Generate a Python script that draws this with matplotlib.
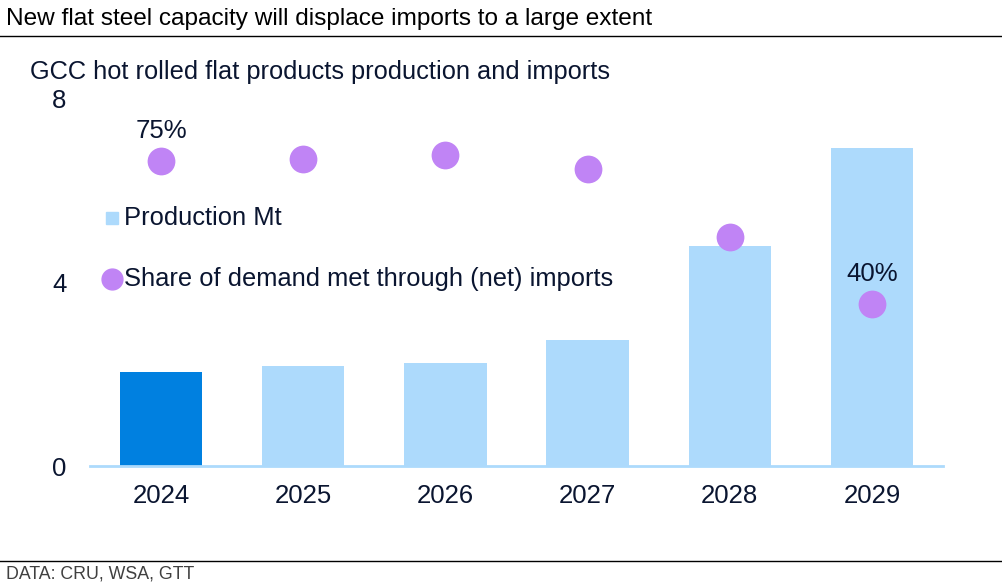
import matplotlib.pyplot as plt
from matplotlib.lines import Line2D

years = ["2024", "2025", "2026", "2027", "2028", "2029"]
production_mt = [2.04, 2.18, 2.24, 2.74, 4.78, 6.92]
import_share = [0.746, 0.751, 0.761, 0.726, 0.561, 0.397]
labelled = {0: "75%", 5: "40%"}
legend_labels = ["Production Mt", "Share of demand met through (net) imports"]

dark = "#0a1530"
bar_light = "#addafc"
bar_dark = "#0080e0"
purple = "#c084f5"

plt.rcParams['font.family'] = ['Liberation Sans', 'DejaVu Sans']

fig = plt.figure(figsize=(10.02, 5.87), dpi=100)
ax = fig.add_axes([90 / 1002, 1 - 466 / 587, 853 / 1002, 368 / 587])

x = list(range(len(years)))
colors = [bar_dark] + [bar_light] * (len(years) - 1)
ax.bar(x, production_mt, width=0.58, color=colors, zorder=2)
ax.set_xlim(-0.5, len(years) - 0.5)
ax.set_ylim(0, 8)
ax.set_yticks([0, 4, 8])
ax.set_xticks(x, years)
ax.tick_params(axis='both', length=0, labelsize=18.5, colors=dark)
ax.tick_params(axis='x', pad=13)
ax.tick_params(axis='y', pad=17)
for s in ['top', 'right', 'left']:
    ax.spines[s].set_visible(False)
ax.spines['bottom'].set_color(bar_light)
ax.spines['bottom'].set_linewidth(2)

ax2 = ax.twinx()
ax2.set_ylim(0, 0.9)
ax2.axis('off')
ax2.scatter(x, import_share, s=400, color=purple, zorder=3, linewidths=0)
for i, txt in labelled.items():
    ax2.annotate(txt, (x[i], import_share[i]), xytext=(0, 21.5), textcoords='offset points',
                 ha='center', va='center', fontsize=18.5, color=dark)

# legend, drawn by hand so rows sit where the reference has them
leg_y = [1 - 218 / 587, 1 - 279 / 587]
fig.add_artist(Line2D([112 / 1002], [leg_y[0]], marker='s', ms=9, color=bar_light, ls=''))
fig.add_artist(Line2D([112 / 1002], [leg_y[1]], marker='o', ms=15, color=purple, ls=''))
for yy, lab in zip(leg_y, legend_labels):
    fig.text(124 / 1002, yy, lab, fontsize=18.4, color=dark, va='center', ha='left')

fig.text(6 / 1002, 1 - 19 / 587, "New flat steel capacity will displace imports to a large extent",
         fontsize=17.6, color='black', va='center', ha='left')
fig.add_artist(Line2D([0, 1], [1 - 36 / 587] * 2, color='black', lw=1))
fig.text(30 / 1002, 1 - 72 / 587, "GCC hot rolled flat products production and imports",
         fontsize=18.3, color=dark, va='center', ha='left')
fig.add_artist(Line2D([0, 1], [1 - 561 / 587] * 2, color='black', lw=1))
fig.text(6 / 1002, 1 - 574 / 587, "DATA: CRU, WSA, GTT", fontsize=12.8, color='#404040',
         va='center', ha='left')

fig.savefig("out.png", dpi=100)
